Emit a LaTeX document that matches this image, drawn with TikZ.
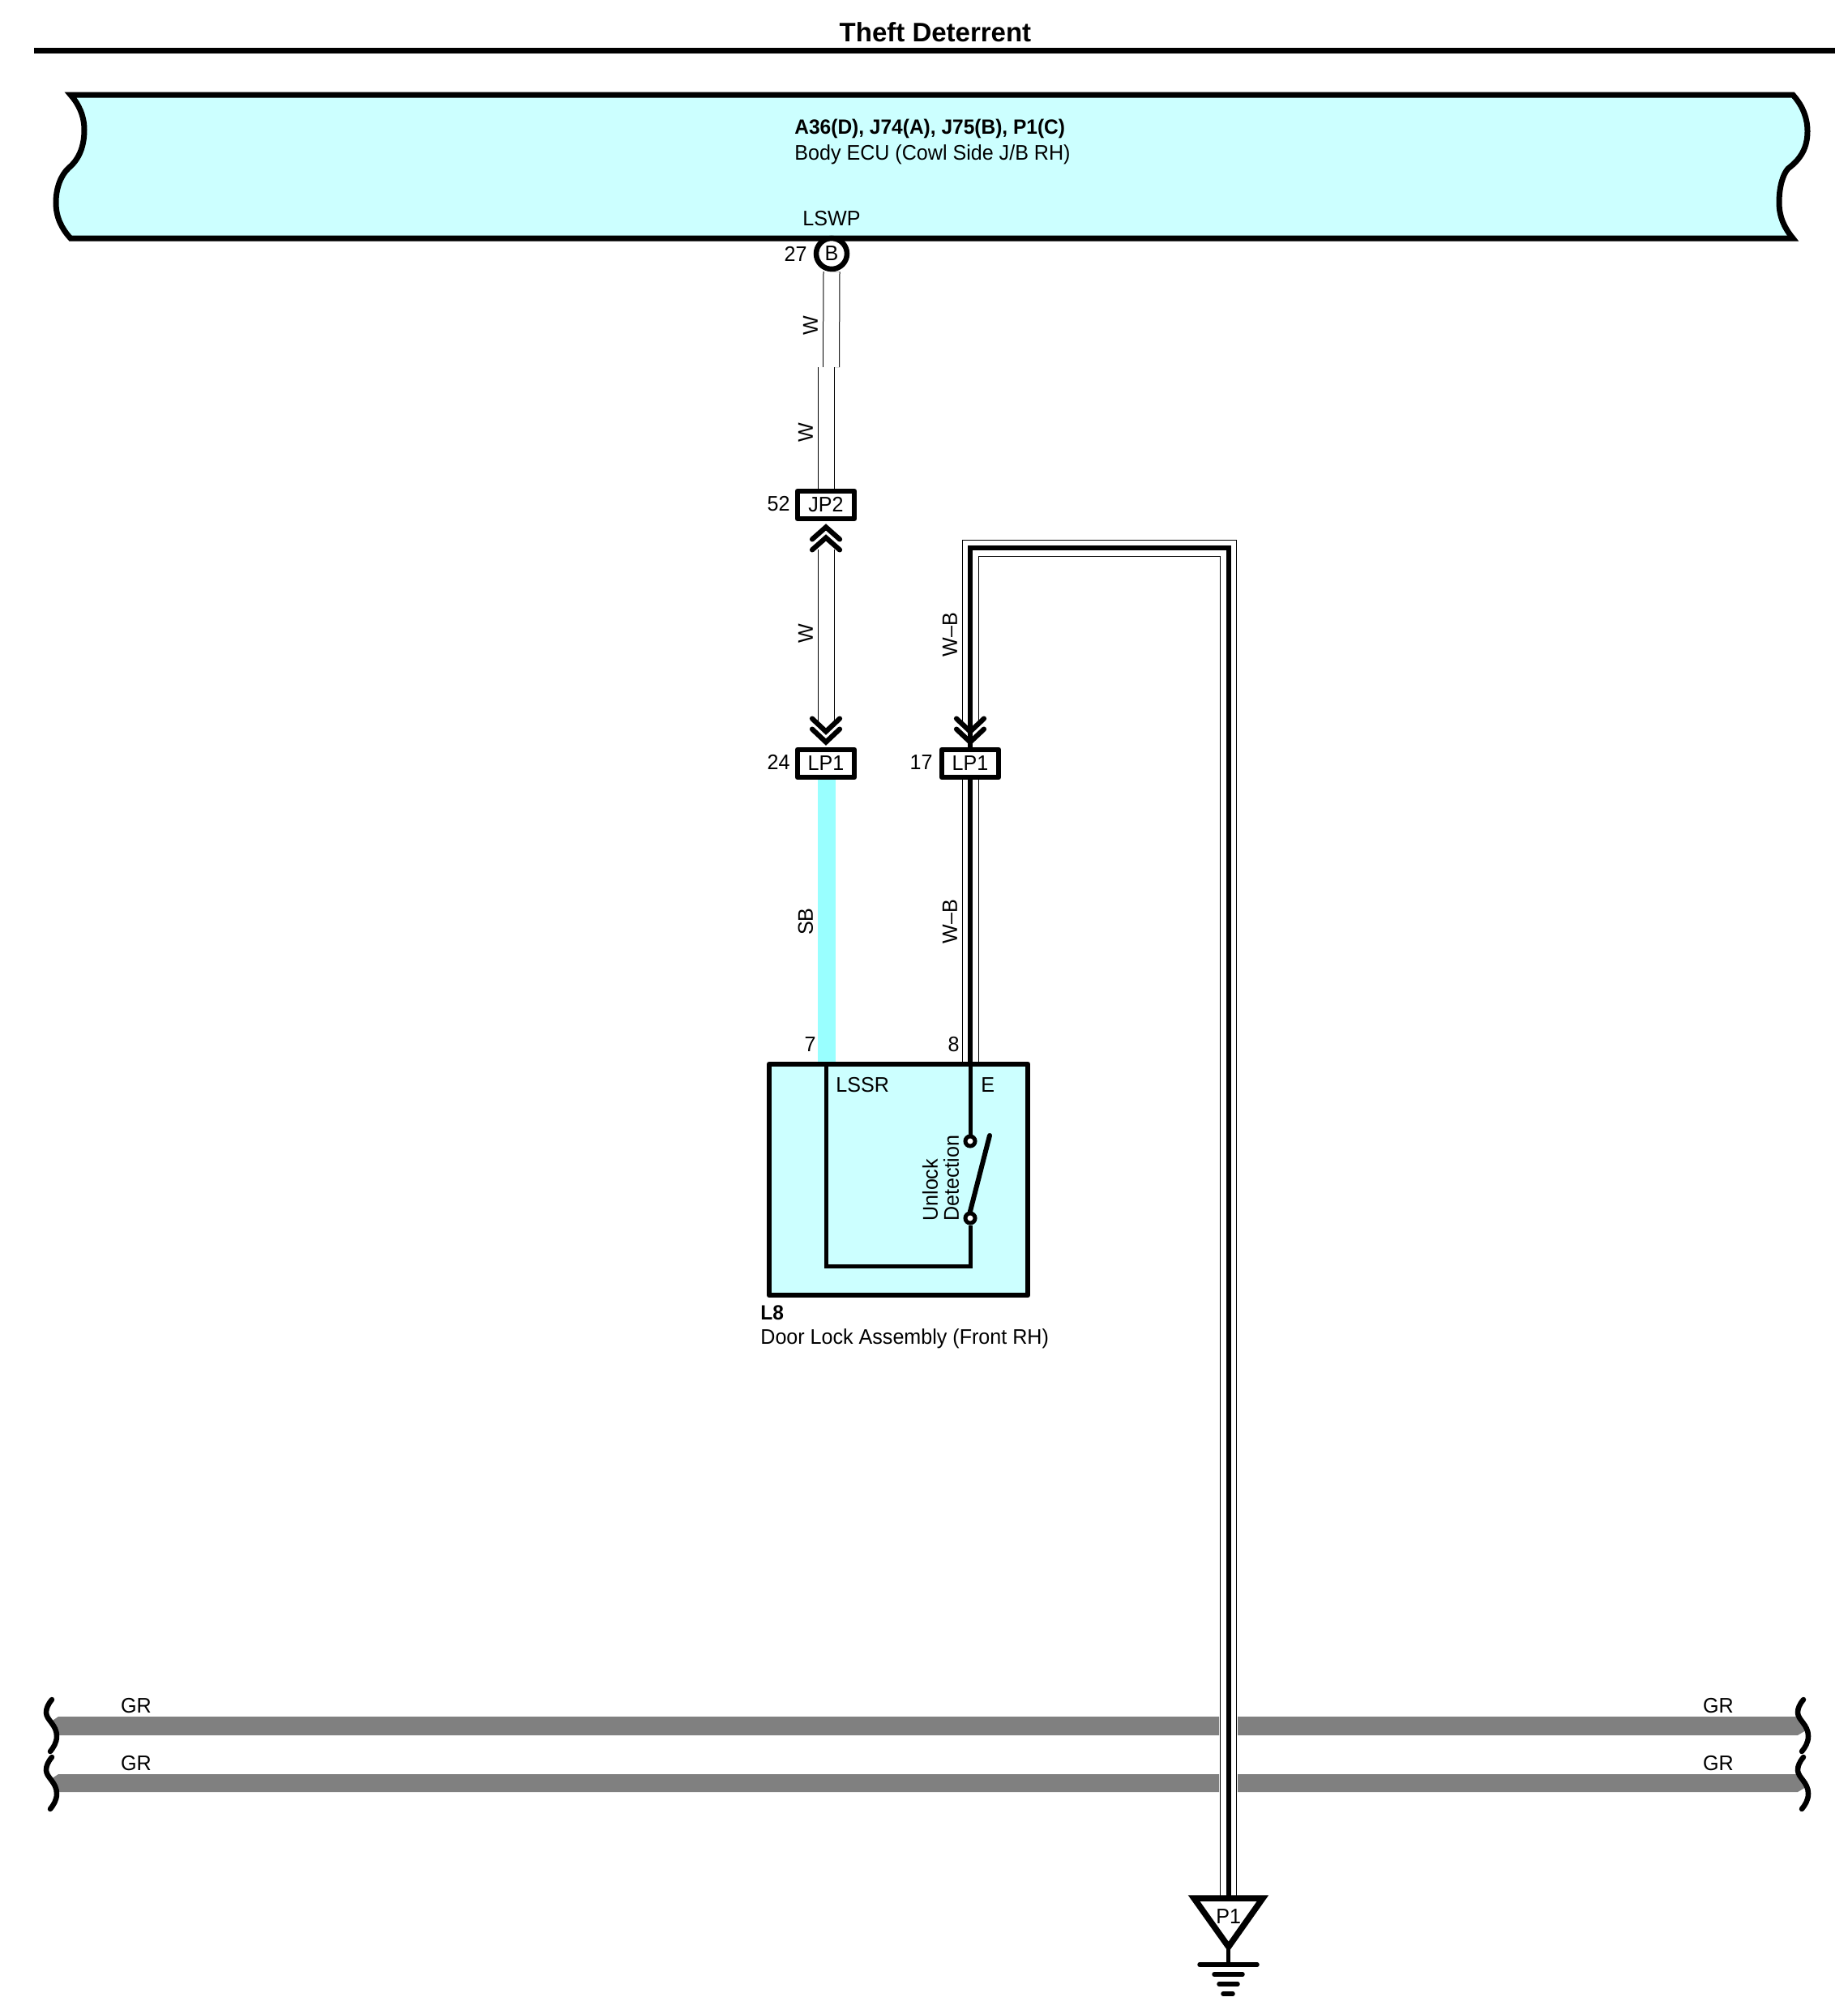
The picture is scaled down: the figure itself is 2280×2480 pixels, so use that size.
\documentclass[tikz,border=0pt]{standalone}
\usepackage{fontspec}
\setmainfont{Liberation Sans}
\newfontfamily\lblfont[FakeStretch=0.965]{Liberation Sans}
\usetikzlibrary{positioning}
\definecolor{ECUCyan}{HTML}{CCFFFF}
\definecolor{SBCyan}{HTML}{99FFFF}
\definecolor{GRGrey}{HTML}{808080}
\tikzset{
    lbl/.style={font=\lblfont\fontsize{13}{13}\selectfont, inner sep=0pt},
    lblbold/.style={font=\lblfont\bfseries\fontsize{12.7}{13}\selectfont, inner sep=0pt},
    conbox/.style={draw, fill=white, line width=3.4pt, line join=round, minimum width=35pt, minimum height=17pt, inner sep=0pt, font=\lblfont\fontsize{13}{13}\selectfont},
    contact/.style={circle, draw, fill=white, line width=2.5pt, minimum size=6pt, inner sep=0pt},
    wirepair/.style={draw=black, line width=0.5pt, double=white, double distance=9.5pt},
    wirecore/.style={draw=black, line width=3pt},
    chevron/.style={draw=black, line width=3.1pt, line cap=round},
    chevdown/.pic={
        \draw[chevron] (-17,-35) -- (0,-19) -- (17,-35);
        \draw[chevron] (-17,-22) -- (0,-6) -- (17,-22);
    },
    chevup/.pic={
        \draw[chevron] (-17,22) -- (0,7) -- (17,22);
        \draw[chevron] (-17,35) -- (0,20) -- (17,35);
    },
    wavebrace/.pic={
        \draw[line width=3.25pt, line cap=round] (0,-32) .. controls (-5,-26) and (-7,-21) .. (-7,-16)
            .. controls (-7,-7) and (6,-1) .. (6,13) .. controls (6,21) and (2,27) .. (-2,32);
    }
}
\begin{document}
\begin{tikzpicture}[x=0.5pt, y=-0.5pt]
    \useasboundingbox (0,0) rectangle (2280,2480);

    % --- TITLE ---
    \node[font=\bfseries\fontsize{16.5}{16.5}\selectfont, inner sep=0pt] (title) at (1154,39.5) {Theft Deterrent};
    \draw[line width=3.5pt] (42,62) -- (2264,62);

    % --- BODY ECU ---
    \draw[fill=ECUCyan, line width=3.5pt] (87,117) -- (2212,117)
        .. controls (2222,128) and (2230,143) .. (2230,162)
        .. controls (2230,182) and (2222,196) .. (2206,208)
        .. controls (2199,216) and (2195,232) .. (2195,250)
        .. controls (2195,268) and (2202,282) .. (2212,294)
        -- (87,294)
        .. controls (76,282) and (69,268) .. (69,250)
        .. controls (69,232) and (75,216) .. (85,207)
        .. controls (98,196) and (104,180) .. (104,160)
        .. controls (104,143) and (97,128) .. (87,117) -- cycle;
    \node[lblbold, anchor=base west] (ecuid) at (980,165.5) {A36(D), J74(A), J75(B), P1(C)};
    \node[lbl, anchor=base west] (ecuname) at (980,197) {Body ECU (Cowl Side J/B RH)};
    \node[lbl, anchor=base] (lswp) at (1026,278) {LSWP};
    \node[circle, draw, fill=white, line width=3.25pt, minimum size=19pt, inner sep=0pt, font=\lblfont\fontsize{13}{13}\selectfont] (pinB) at (1026,313) {B};
    \node[lbl, anchor=base east] (n27) at (996,322) {27};

    % --- CONNECTORS ---
    \node[conbox] (JP2) at (1019,623) {JP2};
    \node[conbox] (LP1a) at (1019,942) {LP1};
    \node[conbox] (LP1b) at (1197,942) {LP1};
    \node[lbl, anchor=base east] (n52) at (975,630) {52};
    \node[lbl, anchor=base east] (n24) at (975,949) {24};
    \node[lbl, anchor=base east] (n17) at (1151,949) {17};

    % --- DOOR LOCK ---
    \node[draw, fill=ECUCyan, line width=3.4pt, line join=round, minimum width=159.5pt, minimum height=142.5pt] (L8) at (1108.5,1455.5) {};
    \node[lbl, anchor=base west] (lssr) at (1031,1347) {LSSR};
    \node[lbl, anchor=base west] (pinE) at (1210,1347) {E};
    \node[lbl, anchor=base east] (n7) at (1007,1297) {7};
    \node[lbl, anchor=base east] (n8) at (1184,1297) {8};
    \node[lblbold, anchor=base west] (l8id) at (938,1628) {L8};
    \node[lbl, anchor=base west] (l8name) at (938,1658) {Door Lock Assembly (Front RH)};
    \node[contact] (ctup) at (1197,1408) {};
    \node[contact] (ctdn) at (1197,1503) {};
    \node[font=\lblfont\fontsize{13}{13}\selectfont, inner sep=0pt, rotate=90, align=left, anchor=south west] (unlock) at (1183.5,1507) {Unlock\\Detection};
    \coordinate (armtip) at (1221,1401);
    \coordinate (turn) at (1197,1562);
    \coordinate (pin7) at (1019.5,1313);
    \coordinate (pin8) at (1197,1310);

    % --- GROUND ---
    \coordinate (gndtop) at (1515.7,2342);
    \coordinate (gndtip) at (1515.7,2402);
    \coordinate (gndbar) at (1515.7,2424);
    \coordinate (wbtop) at (1515.7,676);

    % Wires
    \coordinate (wbreakA) at (1025.5,453);
    \coordinate (wbreakB) at (1019,453);
    \draw[wirepair] (pinB.south) -- (wbreakA);
    \draw[wirepair] (wbreakB) -- (JP2.north);
    \draw[wirepair] ([yshift=-17.5pt]JP2.south) -- ([yshift=15pt]LP1a.north);
    \draw[line width=10.75pt, SBCyan] ([xshift=0.5pt]LP1a.south) -- ([xshift=0.5pt]LP1a.south |- L8.north);
    \draw[wirepair] ([yshift=15pt]LP1b.north) |- (wbtop) -- (gndtop);
    \draw[wirecore] (LP1b.north) |- (wbtop) -- (gndtop);
    \draw[wirepair] (LP1b.south) -- (pin8);
    \draw[wirecore] (LP1b.south) -- (pin8);
    \pic at (JP2.south) {chevup};
    \pic at (LP1a.north) {chevdown};
    \pic at (LP1b.north) {chevdown};
    \node[lbl, rotate=90] (wA) at (1000,402) {W};
    \node[lbl, rotate=90] (wB) at (994,534) {W};
    \node[lbl, rotate=90] (wC) at (994,782) {W};
    \node[lbl, rotate=90] (wbA) at (1172,783) {W–B};
    \node[lbl, rotate=90] (wbB) at (1172,1137) {W–B};
    \node[lbl, rotate=90] (sb) at (994,1137) {SB};

    % Inside the door lock
    \draw[line width=2.5pt] (pin8) -- (ctup.north);
    \draw[line width=2.5pt] (pin7) |- (turn) -- (ctdn.south);
    \draw[line width=3pt, line cap=round] (ctdn.north) -- (armtip);

    % --- GR WIRES ---
    \foreach \tb/\bb/\wy in {2118/2141/2129, 2189/2211/2200} {
        \fill[GRGrey] (72,\tb) -- (63,\tb+6) -- (70,\bb) -- (1504,\bb) -- (1504,\tb) -- cycle;
        \fill[GRGrey] (1527,\tb) -- (1527,\bb) -- (2218,\bb) -- (2228,\bb-6) -- (2218,\tb) -- cycle;
        \pic at (64,\wy) {wavebrace};
        \pic at (2225,\wy) {wavebrace};
    }
    \node[lbl, anchor=base] (grA) at (168,2113) {GR};
    \node[lbl, anchor=base] (grB) at (168,2184) {GR};
    \node[lbl, anchor=base] (grC) at (2120,2113) {GR};
    \node[lbl, anchor=base] (grD) at (2120,2184) {GR};

    % Ground symbol
    \draw[fill=white, line width=3.75pt] (1473,2342) -- (1558,2342) -- (gndtip) -- cycle;
    \node[lbl, anchor=base] (p1) at (1515.7,2373) {P1};
    \draw[line width=2.75pt] (gndtip) -- (gndbar);
    \draw[line width=2.75pt, line cap=round] (1480,2424) -- (1551,2424);
    \draw[line width=2.75pt, line cap=round] (1498,2436) -- (1533,2436);
    \draw[line width=2.75pt, line cap=round] (1504,2448) -- (1527,2448);
    \draw[line width=2.75pt, line cap=round] (1509,2460) -- (1521,2460);
\end{tikzpicture}
\end{document}
